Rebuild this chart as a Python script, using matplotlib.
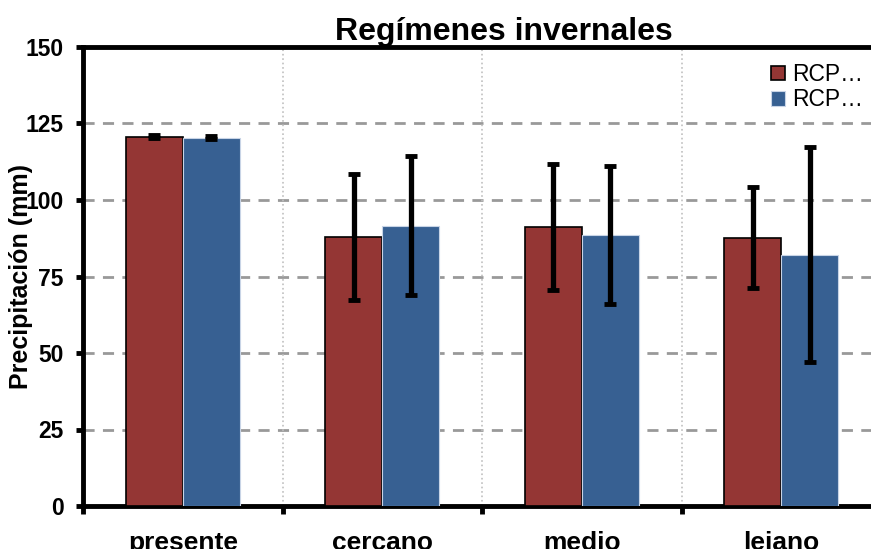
import matplotlib.pyplot as plt
import numpy as np

plt.rcParams['font.family'] = ['Liberation Sans', 'DejaVu Sans']

# datos
periodos = ['presente', 'cercano', 'medio', 'lejano']
rcp_a = [120.6, 88.0, 91.2, 87.7]
rcp_a_err = [0.5, 20.6, 20.5, 16.4]
rcp_b = [120.4, 91.6, 88.5, 82.1]
rcp_b_err = [0.5, 22.7, 22.6, 35.2]
series = ['RCP…', 'RCP…']

rojo = '#943634'
azul = '#376092'

fig = plt.figure(figsize=(8.71, 5.49), dpi=100)
ax = fig.add_axes([83 / 871, 43 / 549, 798 / 871, 459 / 549])

x = np.arange(len(periodos))
w = 0.286
err_kw = dict(ecolor='black', elinewidth=3.8, capsize=4.4, capthick=3.5)
ax.bar(x - w / 2, rcp_a, w, yerr=rcp_a_err, color=rojo, edgecolor='black',
       linewidth=1.2, label=series[0], error_kw=err_kw, zorder=3)
ax.bar(x + w / 2, rcp_b, w, yerr=rcp_b_err, color=azul, edgecolor='#c8d4e6',
       linewidth=0.8, label=series[1], error_kw=err_kw, zorder=3)

ax.set_xlim(-0.5, 3.5)
ax.set_ylim(0, 150)
ax.set_yticks(np.arange(0, 151, 25))
ax.set_yticklabels([str(v) for v in range(0, 151, 25)], fontweight='bold', fontsize=16.5)

# etiquetas centradas, marcas en los limites de categoria
ax.set_xticks(x)
ax.set_xticklabels(periodos, fontweight='bold', fontsize=19)
ax.tick_params(axis='x', which='major', length=0, pad=18)
ax.set_xticks(np.arange(-0.5, 3.6, 1), minor=True)
ax.tick_params(axis='x', which='minor', length=6, width=3.5, direction='out')
ax.tick_params(axis='y', length=5, width=3.5, direction='out', pad=9)

for y in range(25, 150, 25):
    ax.axhline(y, color='#999999', linestyle=(0, (4, 3)), linewidth=2, zorder=1)
for xv in [0.5, 1.5, 2.5]:
    ax.axvline(xv, color='#c0c0c0', linestyle=':', linewidth=1.2, zorder=1)

for s in ['left', 'top', 'bottom']:
    ax.spines[s].set_linewidth(3.5)
ax.spines['right'].set_visible(False)

ax.set_ylabel('Precipitación (mm)', fontweight='bold', fontsize=18)
ax.yaxis.set_label_coords(-0.063, 0.5)
ax.set_title('Regímenes invernales', fontweight='bold', fontsize=23, pad=3, x=0.5276)

leg = ax.legend(loc='upper left', bbox_to_anchor=(0.851, 0.985), frameon=False,
                fontsize=16.5, handlelength=0.6, handleheight=0.6,
                handletextpad=0.3, labelspacing=0.1, borderaxespad=0)

fig.savefig('out.png', dpi=100, facecolor='white')
